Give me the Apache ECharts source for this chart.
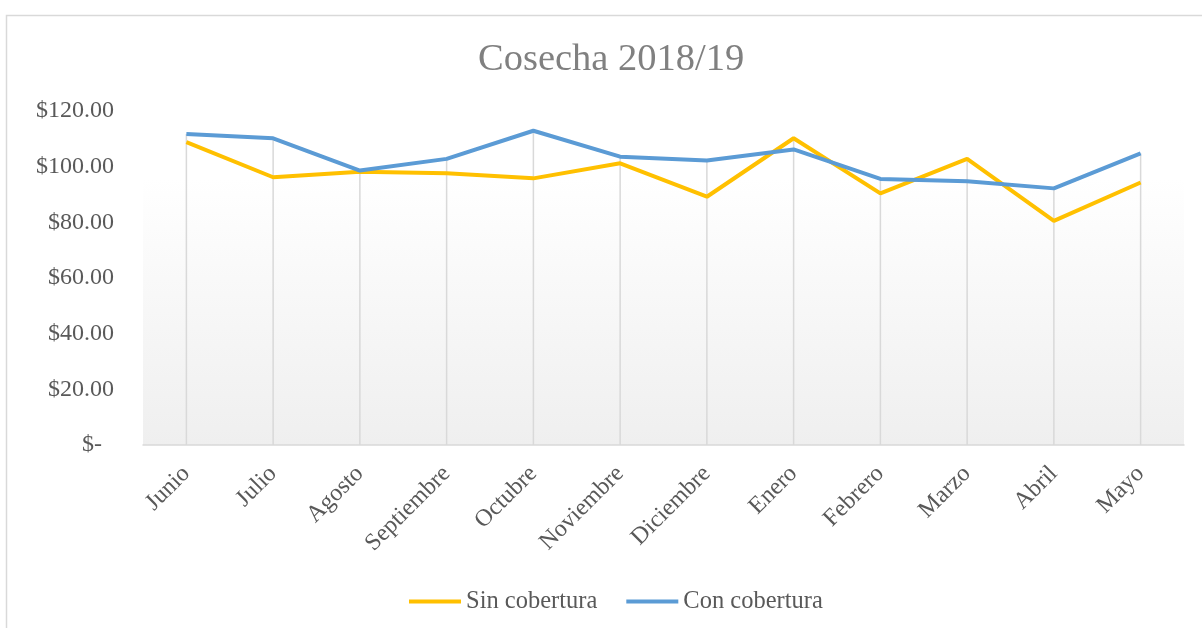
<!DOCTYPE html>
<html>
<head>
<meta charset="utf-8">
<script src="https://cdn.jsdelivr.net/npm/echarts@6/dist/echarts.min.js"></script>
<style>
html, body { margin: 0; padding: 0; background: #fff; }
#main { width: 1202px; height: 628px; }
</style>
</head>
<body>
<div id="main"></div>
<script>
var meses = ['Junio', 'Julio', 'Agosto', 'Septiembre', 'Octubre', 'Noviembre', 'Diciembre', 'Enero', 'Febrero', 'Marzo', 'Abril', 'Mayo'];
var sinCobertura = [108.8, 96.2, 98.2, 97.6, 95.8, 101.2, 89.2, 110.2, 90.4, 102.8, 80.5, 94.3];
var conCobertura = [111.7, 110.2, 98.6, 102.8, 112.9, 103.6, 102.2, 106.2, 95.6, 94.8, 92.2, 104.8];
var yTicks = [0, 20, 40, 60, 80, 100, 120];

// lineas de caida: desde el eje hasta el punto mas alto de cada mes
var caidas = [];
for (var i = 0; i < meses.length; i++) {
	caidas.push([i, Math.max(sinCobertura[i], conCobertura[i])]);
}

var fuente = '"Liberation Serif", "Times New Roman", serif';
var myChart = echarts.init(document.getElementById('main'));
var option = {
	backgroundColor: '#fff',
	textStyle: { fontFamily: fuente },
	title: {
		text: 'Cosecha 2018/19',
		left: 473,
		top: 35,
		textStyle: { fontFamily: fuente, fontSize: 38.5, fontWeight: 'normal', color: '#808080' }
	},
	graphic: [{
		type: 'rect',
		left: 4, top: 13,
		shape: { width: 1300, height: 700 },
		style: { fill: 'none', stroke: '#d9d9d9', lineWidth: 1.5 },
		silent: true
	}],
	legend: {
		data: ['Sin cobertura', 'Con cobertura'],
		left: 404,
		top: 584,
		itemWidth: 52,
		itemHeight: 4,
		itemGap: 29,
		icon: 'rect',
		textStyle: { fontFamily: fuente, fontSize: 24.5, color: '#595959' }
	},
	grid: {
		left: 143, right: 18, top: 111, bottom: 183,
		show: true,
		borderWidth: 0,
		backgroundColor: new echarts.graphic.LinearGradient(0, 0, 0, 1, [
			{ offset: 0, color: '#ffffff' },
			{ offset: 0.2, color: '#ffffff' },
			{ offset: 1, color: '#efefef' }
		])
	},
	xAxis: {
		type: 'category',
		data: meses,
		boundaryGap: true,
		axisLine: { lineStyle: { color: '#d9d9d9', width: 1.5 } },
		axisTick: { show: false },
		splitLine: { show: false },
		axisLabel: { rotate: 45, margin: 25, fontFamily: fuente, fontSize: 24, color: '#595959', interval: 0 }
	},
	yAxis: {
		type: 'value',
		min: yTicks[0],
		max: yTicks[yTicks.length - 1],
		interval: 20,
		axisLine: { show: false },
		axisTick: { show: false },
		splitLine: { show: false },
		axisLabel: {
			margin: 29,
			fontFamily: fuente, fontSize: 24, color: '#595959',
			formatter: function(v) { return v === 0 ? '$-\u00a0\u00a0' : '$' + v.toFixed(2); }
		}
	},
	series: [
		{
			name: 'caidas',
			type: 'custom',
			silent: true,
			z: 1,
			data: caidas,
			renderItem: function(params, api) {
				var top = api.coord([api.value(0), api.value(1)]);
				var base = api.coord([api.value(0), 0]);
				return {
					type: 'line',
					shape: { x1: top[0], y1: top[1], x2: base[0], y2: base[1] },
					style: { stroke: '#d9d9d9', lineWidth: 1.5 }
				};
			}
		},
		{
			name: 'Sin cobertura',
			type: 'line',
			data: sinCobertura,
			showSymbol: false,
			z: 3,
			color: '#ffc000',
			lineStyle: { color: '#ffc000', width: 4 }
		},
		{
			name: 'Con cobertura',
			type: 'line',
			data: conCobertura,
			showSymbol: false,
			z: 4,
			color: '#5b9bd5',
			lineStyle: { color: '#5b9bd5', width: 4 }
		}
	]
};
myChart.setOption(option);
</script>
</body>
</html>
